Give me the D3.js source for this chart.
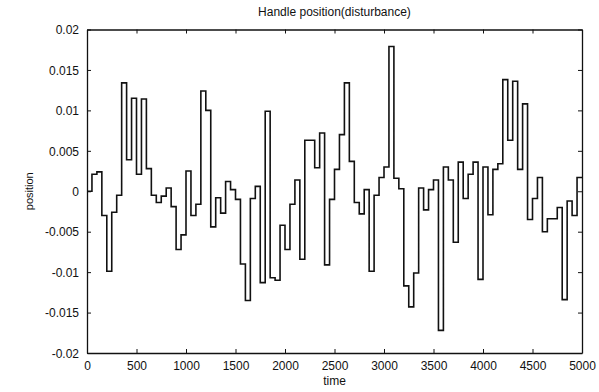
<!DOCTYPE html>
<html>
<head>
<meta charset="utf-8">
<script src="https://cdn.jsdelivr.net/npm/d3@7"></script>
<style>
  html, body { margin: 0; padding: 0; background: #fff; }
  svg { display: block; }
  text { font-family: "Liberation Sans", Arial, sans-serif; fill: #111; }
</style>
</head>
<body>
<svg id="chart" width="599" height="392"></svg>
<script>
// Step start times of the disturbance signal (held for 50 time units each)
const stepTimes = d3.range(0, 5000, 50);

// Handle position at each step
const positions = [
  0, 0.0021, 0.0024, -0.003, -0.0099, -0.0026, -0.0005, 0.0134, 0.0039, 0.0115,
  0.0021, 0.0114, 0.0028, -0.0005, -0.0014, -0.0006, 0.0004, -0.0019, -0.0072, -0.0054,
  0.0025, -0.003, -0.0016, 0.0124, 0.01, -0.0044, -0.0008, -0.0027, 0.0012, 0.0002,
  -0.001, -0.009, -0.0135, -0.0009, 0.0006, -0.0113, 0.0099, -0.0107, -0.011, -0.0042,
  -0.0072, -0.0016, 0.0014, -0.0084, 0.0063, 0.0063, 0.0029, 0.0072, -0.0091, -0.001,
  0.0027, 0.007, 0.0134, 0.0037, -0.0014, -0.0028, 0.0002, -0.0099, -0.0005, 0.0017,
  0.003, 0.0179, 0.0016, 0.0003, -0.0117, -0.0143, -0.0101, 0.0004, -0.0023, 0.0002,
  0.0014, -0.0172, 0.003, 0.0014, -0.0063, 0.0036, -0.0009, 0.0021, 0.0036, -0.0109,
  0.003, -0.0029, 0.0027, 0.0034, 0.0138, 0.0063, 0.0136, 0.0027, 0.0108, -0.0035,
  -0.0009, 0.0017, -0.005, -0.0034, -0.0034, -0.002, -0.0134, -0.0012, -0.003, 0.0017
];

const xTicks = [0, 500, 1000, 1500, 2000, 2500, 3000, 3500, 4000, 4500, 5000];
const yTicks = [-0.02, -0.015, -0.01, -0.005, 0, 0.005, 0.01, 0.015, 0.02];
const yTickLabels = ["-0.02", "-0.015", "-0.01", "-0.005", "0", "0.005", "0.01", "0.015", "0.02"];

const titleText = "Handle position(disturbance)";
const xLabel = "time";
const yLabel = "position";

const W = 599, H = 392;
const margin = { top: 29.5, right: 17, bottom: 39, left: 87 };
const iw = W - margin.left - margin.right;
const ih = H - margin.top - margin.bottom;

const svg = d3.select("#chart");
const g = svg.append("g").attr("transform", `translate(${margin.left},${margin.top})`);

const x = d3.scaleLinear().domain([0, 5000]).range([0, iw]);
const y = d3.scaleLinear().domain([-0.02, 0.02]).range([ih, 0]);

// Signal points, with the last level held to the end of the axis
const pts = stepTimes.map((t, i) => [t, positions[i]]);
pts.push([5000, positions[positions.length - 1]]);

const line = d3.line()
  .x(d => x(d[0]))
  .y(d => y(d[1]))
  .curve(d3.curveStepAfter);

g.append("path")
  .datum(pts)
  .attr("fill", "none")
  .attr("stroke", "#111")
  .attr("stroke-width", 1.6)
  .attr("d", line);

// Frame with inward ticks on all four sides
const tickLen = 4;
const fmtX = d3.format("d");
const fmtY = d => yTickLabels[yTicks.indexOf(d)];

const bottomAxis = g.append("g").attr("transform", `translate(0,${ih})`)
  .call(d3.axisBottom(x).tickValues(xTicks).tickSizeInner(-tickLen).tickSizeOuter(0).tickPadding(8).tickFormat(fmtX));
const topAxis = g.append("g")
  .call(d3.axisTop(x).tickValues(xTicks).tickSizeInner(-tickLen).tickSizeOuter(0).tickFormat(""));
const leftAxis = g.append("g")
  .call(d3.axisLeft(y).tickValues(yTicks).tickSizeInner(-tickLen).tickSizeOuter(0).tickPadding(8).tickFormat(fmtY));
const rightAxis = g.append("g").attr("transform", `translate(${iw},0)`)
  .call(d3.axisRight(y).tickValues(yTicks).tickSizeInner(-tickLen).tickSizeOuter(0).tickFormat(""));

[bottomAxis, topAxis, leftAxis, rightAxis].forEach(a => {
  a.select(".domain").attr("stroke", "#111").attr("stroke-width", 1.3);
  a.selectAll(".tick line").attr("stroke", "#111").attr("stroke-width", 1);
  a.selectAll(".tick text")
    .attr("font-family", "'Liberation Sans', Arial, sans-serif")
    .attr("font-size", 12)
    .attr("fill", "#111");
});
leftAxis.selectAll(".tick text").attr("dy", "0.35em");

// Title and axis labels
svg.append("text")
  .attr("x", margin.left + iw / 2)
  .attr("y", 16)
  .attr("text-anchor", "middle")
  .attr("font-size", 12)
  .text(titleText);

svg.append("text")
  .attr("x", margin.left + iw / 2)
  .attr("y", 385)
  .attr("text-anchor", "middle")
  .attr("font-size", 12)
  .text(xLabel);

svg.append("text")
  .attr("transform", `translate(33,${margin.top + ih / 2}) rotate(-90)`)
  .attr("text-anchor", "middle")
  .attr("font-size", 11)
  .text(yLabel);
</script>
</body>
</html>
